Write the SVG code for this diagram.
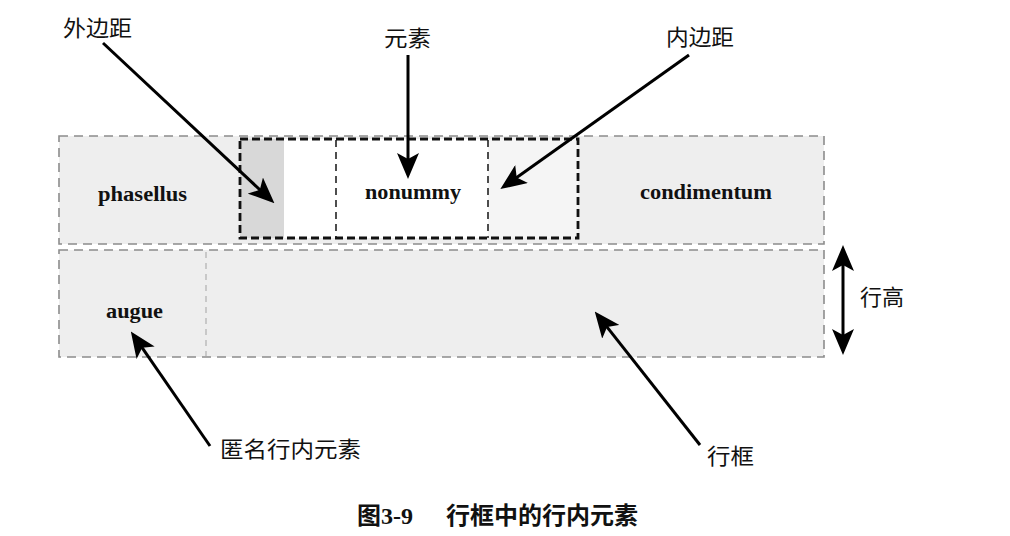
<svg xmlns="http://www.w3.org/2000/svg" width="1010" height="536" viewBox="0 0 1010 536">
<defs>
<style>
.line{fill:#eeeeee;stroke:#8c8c8c;stroke-width:1.6;stroke-dasharray:9 6}
.inl{fill:none;stroke:#111;stroke-width:2.8;stroke-dasharray:8 4}
.cnt{stroke:#222;stroke-width:1.6;stroke-dasharray:7 5}
.anon{stroke:#b8b8b8;stroke-width:1.4;stroke-dasharray:6 5}
.word{font-family:"Liberation Serif","Times New Roman",serif;font-weight:bold;font-size:20px;fill:#111}
.lbl{font-family:"Noto Sans CJK SC","Noto Sans",sans-serif;font-size:22px;fill:#111}
.cap{font-family:"Liberation Serif","Noto Sans CJK SC",serif;font-weight:bold;font-size:24px;fill:#111}
.arr{stroke:#000;stroke-width:3;fill:none}
</style>
<marker id="ah" viewBox="0 0 26 22" refX="12" refY="11" markerWidth="26" markerHeight="22" markerUnits="userSpaceOnUse" orient="auto-start-reverse">
<path d="M0,0 L26,11 L0,22 L6,11 z" fill="#000"/>
</marker>
</defs>
<rect width="1010" height="536" fill="#fff"/>

<g id="linebox1">
<rect class="line" x="59" y="136" width="765" height="108"/>
</g>
<g id="linebox2">
<rect class="line" x="59" y="250" width="765" height="107"/>
</g>

<g id="inline-element">
<rect x="240" y="139" width="44" height="99" fill="#d8d8d8"/>
<rect x="284" y="139" width="204" height="99" fill="#ffffff"/>
<rect x="488" y="139" width="90" height="99" fill="#f5f5f5"/>
<line class="cnt" x1="336" y1="140" x2="336" y2="238"/>
<line class="cnt" x1="488" y1="140" x2="488" y2="238"/>
<rect class="inl" x="240" y="139" width="338" height="99"/>
<text class="word" x="365" y="199" textLength="96" lengthAdjust="spacingAndGlyphs">nonummy</text>
</g>

<g id="phasellus">
<text class="word" x="98" y="201" textLength="89" lengthAdjust="spacingAndGlyphs">phasellus</text>
</g>
<g id="condimentum">
<text class="word" x="640" y="199" textLength="132" lengthAdjust="spacingAndGlyphs">condimentum</text>
</g>
<g id="augue">
<line class="anon" x1="206" y1="252" x2="206" y2="356"/>
<text class="word" x="106" y="318" textLength="57" lengthAdjust="spacingAndGlyphs">augue</text>
</g>

<g id="labels">
<text class="lbl" x="63" y="36" textLength="69" lengthAdjust="spacingAndGlyphs">外边距</text>
<text class="lbl" x="384" y="46" textLength="47" lengthAdjust="spacingAndGlyphs">元素</text>
<text class="lbl" x="666" y="45" textLength="68" lengthAdjust="spacingAndGlyphs">内边距</text>
<text class="lbl" x="860" y="305" textLength="44" lengthAdjust="spacingAndGlyphs">行高</text>
<text class="lbl" x="220" y="457" textLength="141" lengthAdjust="spacingAndGlyphs">匿名行内元素</text>
<text class="lbl" x="707" y="464" textLength="47" lengthAdjust="spacingAndGlyphs">行框</text>
</g>

<g id="connectors">
<line class="arr" x1="103" y1="43" x2="264.2" y2="193.8" marker-end="url(#ah)"/>
<line class="arr" x1="408" y1="55" x2="408" y2="165" marker-end="url(#ah)"/>
<line class="arr" x1="689" y1="55" x2="511.8" y2="181" marker-end="url(#ah)"/>
<line class="arr" x1="843" y1="259" x2="843" y2="341" marker-start="url(#ah)" marker-end="url(#ah)"/>
<line class="arr" x1="210" y1="446" x2="138.8" y2="342.9" marker-end="url(#ah)"/>
<line class="arr" x1="700" y1="445" x2="603.4" y2="322.4" marker-end="url(#ah)"/>
</g>

<g id="caption">
<text class="cap" y="524"><tspan x="357">图3-9</tspan><tspan x="446">行框中的行内元素</tspan></text>
</g>
</svg>
